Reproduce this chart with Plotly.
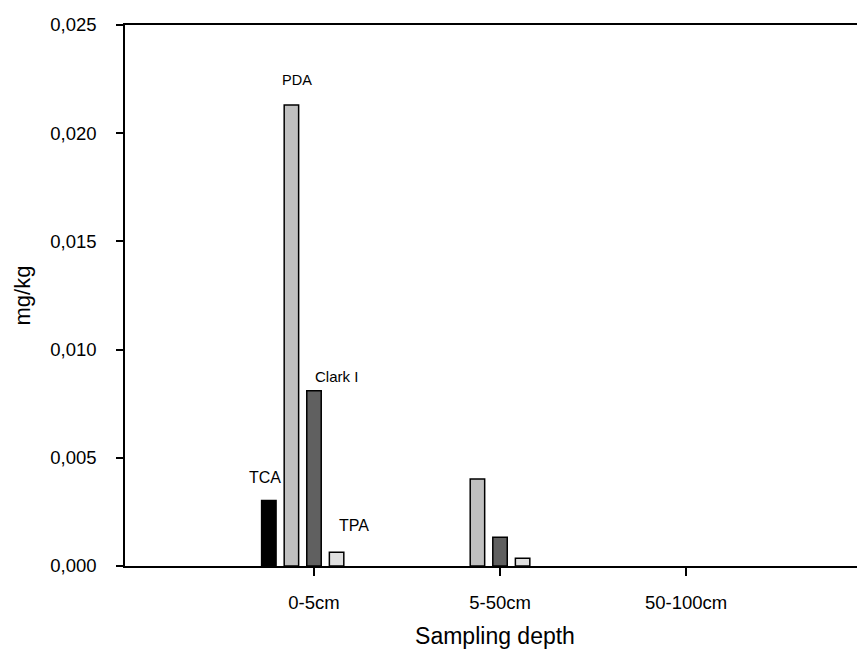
import plotly.graph_objects as go

categories = ["0-5cm", "5-50cm", "50-100cm"]
series_names = ["TCA", "PDA", "Clark I", "TPA", "Series 5"]
tca = [0.00303, None, None]
pda = [0.0213, 0.00402, None]
clark = [0.00810, 0.00133, None]
tpa = [0.00064, 0.00036, None]
series5 = [None, None, None]
values = [tca, pda, clark, tpa, series5]
colors = ["#000000", "#c0c0c0", "#606060", "#e0e0e0", "#ffffff"]

fig = go.Figure()
for name, vals, col in zip(series_names, values, colors):
    fig.add_trace(go.Bar(
        x=list(range(len(categories))), y=vals, name=name,
        marker=dict(color=col, line=dict(color="#000000", width=1.5)),
        showlegend=False,
    ))

font = "Liberation Sans, Arial, sans-serif"
fig.update_layout(
    width=857, height=647,
    margin=dict(l=117, r=0, t=17, b=89),
    paper_bgcolor="white", plot_bgcolor="white",
    barmode="group", bargap=0.393, bargroupgap=0.36,
    separators=",.",
    font=dict(family=font, size=18.5, color="#000000"),
    xaxis=dict(
        tickmode="array", tickvals=list(range(len(categories))), ticktext=categories,
        range=[-1.016, 2.962], showline=True, linecolor="#000000", linewidth=1.5,
        mirror=True, ticks="outside", ticklen=8, tickwidth=1.5, tickcolor="#000000",
        showgrid=False, zeroline=False, ticklabelstandoff=11,
        title=dict(text="Sampling depth", font=dict(size=23), standoff=16),
    ),
    yaxis=dict(
        range=[0, 0.025], dtick=0.005, tickformat=".3f",
        showline=True, linecolor="#000000", linewidth=1.5,
        ticks="outside", ticklen=7, tickwidth=1.5, tickcolor="#000000",
        showgrid=False, zeroline=False, ticklabelstandoff=16,
        title=dict(text="mg/kg", font=dict(size=22), standoff=14),
    ),
)

ann = [("PDA", 297, 80, 14.5), ("Clark I", 336, 377, 15), ("TCA", 265, 478, 16), ("TPA", 354, 526, 16)]
for txt, px, py, fs in ann:
    fig.add_annotation(
        text=txt, xref="paper", yref="paper",
        x=(px - 125) / 740, y=(566 - py) / 540.5,
        showarrow=False, font=dict(size=fs), xanchor="center", yanchor="middle",
    )

fig.write_html("out.html")
